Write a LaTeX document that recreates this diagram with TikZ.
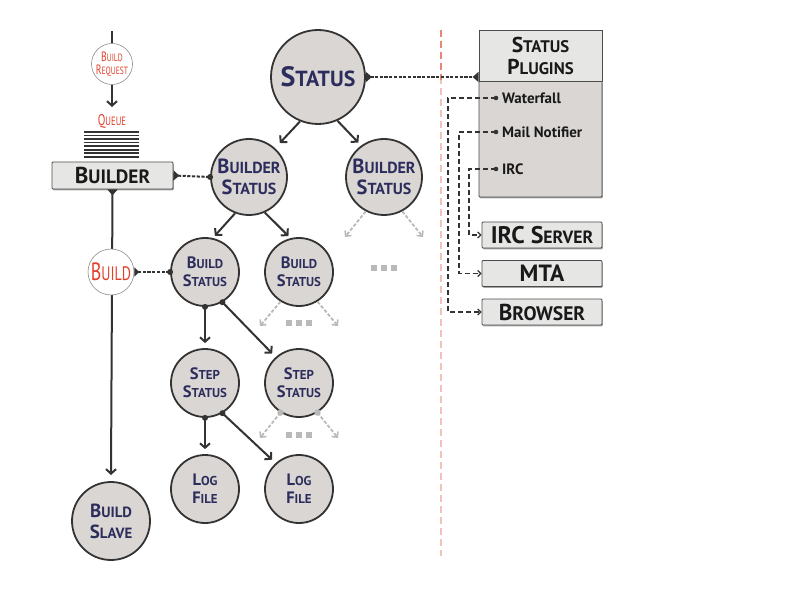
\documentclass[tikz,border=0pt]{standalone}
\usepackage{fontspec}
\setmainfont{PT Sans}
\newfontfamily\condfont[FakeStretch=0.72]{PT Sans}
\usetikzlibrary{arrows.meta,shadows}
\definecolor{navy}{RGB}{44,45,92}
\definecolor{cdark}{RGB}{51,51,51}
\definecolor{cfill}{RGB}{218,214,211}
\definecolor{bfill}{RGB}{230,231,229}
\definecolor{cred}{RGB}{226,64,43}
\definecolor{rline}{RGB}{244,192,186}
\definecolor{rlinetop}{RGB}{232,135,118}
\definecolor{cgrey}{RGB}{185,185,185}
\makeatletter
\newcommand\fsc[3][0.78]{#2{\@tempdima=\f@size pt\relax\@tempdima=#1\@tempdima\fontsize{\strip@pt\@tempdima}{\strip@pt\@tempdima}\selectfont #3}}
\makeatother
\begin{document}
\begin{tikzpicture}[x=1pt,y=-1pt,
  stat/.style={circle, draw=cdark, line width=1.8pt, fill=cfill, text=navy, align=center, inner sep=0pt, minimum size=#1},
  redc/.style={circle, draw=black!45, line width=0.6pt, fill=white, text=cred, align=center, inner sep=0pt, minimum size=#1},
  gbox/.style={rectangle, draw=black!70, line width=0.8pt, fill=bfill, rounded corners=1pt, align=center, inner sep=0pt,
    drop shadow={shadow xshift=0.8pt, shadow yshift=-1.4pt, fill=black, opacity=0.35}},
  arr/.style={draw=cdark, line width=2pt, -{Straight Barb[length=4.5pt,width=10pt,line width=2pt]}},
  garr/.style={draw=cgrey, line width=1.8pt, dash pattern=on 3.5pt off 1.8pt, -{Straight Barb[length=4pt,width=8pt,line width=1.6pt]}},
  dline/.style={draw=cdark, line width=2pt, dash pattern=on 3.2pt off 1.5pt},
  pline/.style={draw=cdark, line width=1.5pt, dash pattern=on 5pt off 3pt},
  item/.style={anchor=west, inner sep=0pt, font={\bfseries\fontsize{15}{16}\selectfont}, text=black!90},
  qline/.style={draw=cdark, line width=1.6pt},
  gdot/.style={fill=cgrey},
  rbox/.style={gbox, minimum width=120pt, minimum height=26pt, text=black!90}
]
\useasboundingbox (0,0) rectangle (792,612);

% separator
\coordinate (rtop) at (441,30);
\coordinate (rmid) at (441,80);
\coordinate (rbot) at (441,556);
\draw[rlinetop, line width=1.3pt, dash pattern=on 7pt off 4pt] (rtop) -- (rmid);
\draw[rline, line width=1.3pt, dash pattern=on 7pt off 4pt, dash phase=3pt] (rmid) -- (rbot);

% left column
\coordinate (top) at (112,31);
\node[redc=41pt, font={\condfont\fontsize{13.5}{13}\selectfont}] (req) at (112,64) {\fsc{B}{UILD}\\\fsc{R}{EQUEST}};
\draw[cdark, line width=2pt] (top) -- (req.north);
\coordinate (qa) at (112,107);
\draw[arr] (req.south) -- (qa);
\node[text=cred, font={\condfont\fontsize{15.5}{15}\selectfont}, inner sep=0pt] (queue) at (112,121) {\fsc{Q}{UEUE}};
\foreach \i in {0,...,7} {\draw[qline] (84,{132+\i*3.55}) -- (139,{132+\i*3.55});}

\node[gbox, minimum width=121pt, minimum height=27pt, font={\bfseries\fontsize{23}{23}\selectfont}, text=black!90] (builder) at (112.5,175.5) {\fsc[0.84]{B}{UILDER}};

\node[stat=78pt, font={\bfseries\fontsize{19}{21}\selectfont}] (slave) at (111,521) {\fsc{B}{UILD}\\\fsc{S}{LAVE}};
\coordinate (sa) at (111,475);
\draw[arr, {Triangle[reversed,length=6pt,width=10pt]}-{Straight Barb[length=4.5pt,width=10pt,line width=2pt]}] (builder.south) -- (sa);
\node[redc=46pt, font={\condfont\fontsize{25}{25}\selectfont}] (build) at (111,272) {\fsc{B}{UILD}};

% status tree
\node[stat=94pt, font={\bfseries\fontsize{28}{30}\selectfont}] (status) at (318,77) {\fsc{S}{TATUS}};
\node[stat=76pt, font={\bfseries\fontsize{20.5}{21}\selectfont}] (bs1) at (249,177) {\fsc{B}{UILDER}\\\fsc{S}{TATUS}};
\node[stat=76pt, font={\bfseries\fontsize{20.5}{21}\selectfont}] (bs2) at (384,177) {\fsc{B}{UILDER}\\\fsc{S}{TATUS}};
\node[stat=68pt, font={\bfseries\fontsize{16.5}{18}\selectfont}] (bu1) at (205,272) {\fsc{B}{UILD}\\\fsc{S}{TATUS}};
\node[stat=68pt, font={\bfseries\fontsize{16.5}{18}\selectfont}] (bu2) at (299,272) {\fsc{B}{UILD}\\\fsc{S}{TATUS}};
\node[stat=68pt, font={\bfseries\fontsize{16.5}{18}\selectfont}] (st1) at (205,383) {\fsc{S}{TEP}\\\fsc{S}{TATUS}};
\node[stat=68pt, font={\bfseries\fontsize{16.5}{18}\selectfont}] (st2) at (299,383) {\fsc{S}{TEP}\\\fsc{S}{TATUS}};
\node[stat=68pt, font={\bfseries\fontsize{16.5}{18}\selectfont}] (lf1) at (205,489) {\fsc{L}{OG}\\\fsc{F}{ILE}};
\node[stat=68pt, font={\bfseries\fontsize{16.5}{18}\selectfont}] (lf2) at (299,489) {\fsc{L}{OG}\\\fsc{F}{ILE}};

\draw[arr, shorten >=7pt] (status.248) -- (bs1.48);
\draw[arr, shorten >=4pt] (status.294) -- (bs2.126);
\draw[arr, shorten >=3pt] (bs1.249) -- (bu1.77);
\draw[arr, shorten >=3pt] (bs1.294) -- (bu2.104);

\draw[arr, shorten >=5pt] (bu1.south) -- (st1.north);
\draw[arr, shorten >=5pt] (bu1.300) -- (st2.132);
\fill[cdark] (bu1.south) circle (3pt);
\fill[cdark] (bu1.300) circle (3pt);
\draw[arr, shorten >=5pt] (st1.south) -- (lf1.north);
\draw[arr, shorten >=5pt] (st1.300) -- (lf2.132);
\fill[cdark] (st1.south) circle (3pt);
\fill[cdark] (st1.300) circle (3pt);

% dashed links to the left
\draw[dline, {Triangle[reversed,length=6pt,width=10pt]}-] (builder.east) -- (bs1.west);
\fill[cdark] (bs1.west) circle (3pt);
\draw[dline, {Triangle[reversed,length=5pt,width=9pt]}-] (build.east) -- (bu1.west);
\fill[cdark] (bu1.west) circle (3pt);

% grey continuation arrows
\coordinate (g1) at (345,237);
\coordinate (g2) at (423,237);
\draw[garr] (bs2.242) -- (g1);
\draw[garr] (bs2.298) -- (g2);
\coordinate (g3) at (260,326);
\coordinate (g4) at (338,326);
\draw[garr] (bu2.238) -- (g3);
\draw[garr] (bu2.302) -- (g4);
\coordinate (g5) at (260,438);
\coordinate (g6) at (338,438);
\draw[garr] (st2.238) -- (g5);
\draw[garr] (st2.302) -- (g6);
\fill[cgrey] (st2.238) circle (3.2pt);
\fill[cgrey] (st2.302) circle (3.2pt);
\foreach \cx/\cy in {384/268, 299/323, 299/435} {
  \foreach \d in {-10,0,10} {\fill[gdot] ({\cx+\d-2.8},{\cy-2.8}) rectangle ({\cx+\d+2.8},{\cy+2.8});}
}

% status plugins
\node[gbox, fill=cfill, minimum width=123pt, minimum height=116pt] (plugb) at (540.5,139) {};
\node[rectangle, draw=black!70, line width=0.8pt, fill=bfill, minimum width=123pt, minimum height=51pt, align=center, inner sep=0pt, font={\bfseries\fontsize{21.5}{22}\selectfont}, text=black!90] (plugh) at (540.5,55.5) {\fsc{S}{TATUS}\\\fsc{P}{LUGINS}};

\draw[dline, {Triangle[reversed,length=6pt,width=10pt]}-{Triangle[reversed,length=6pt,width=10pt]}] (status.east) -- (status.east -| plugh.west);

\node[item] (wf) at (502,98) {Waterfall};
\node[item] (mn) at (502,132) {Mail Notifier};
\node[item] (irc) at (502,169) {IRC};
\coordinate (wfd) at (496,98);
\coordinate (mnd) at (496,132);
\coordinate (ircd) at (496,169);

\node[rbox, font={\bfseries\fontsize{24}{24}\selectfont}] (ircs) at (542,235) {IRC \fsc[0.74]{S}{ERVER}};
\node[rbox, font={\bfseries\fontsize{23.5}{24}\selectfont}] (mta) at (542,273.5) {MTA};
\node[rbox, font={\bfseries\fontsize{23}{24}\selectfont}] (browser) at (542,312) {\fsc[0.85]{B}{ROWSER}};

\draw[pline, -{Straight Barb[length=3pt,width=6pt,line width=1.3pt]}] (wfd) -- ++(-48,0) |- (browser.west);
\draw[pline, -{Straight Barb[length=3pt,width=6pt,line width=1.3pt]}] (mnd) -- ++(-37,0) |- (mta.west);
\draw[pline, -{Straight Barb[length=3pt,width=6pt,line width=1.3pt]}] (ircd) -- ++(-27,0) |- (ircs.west);
\fill[cdark] (wfd) circle (2.3pt);
\fill[cdark] (mnd) circle (2.3pt);
\fill[cdark] (ircd) circle (2.3pt);
\end{tikzpicture}
\end{document}
